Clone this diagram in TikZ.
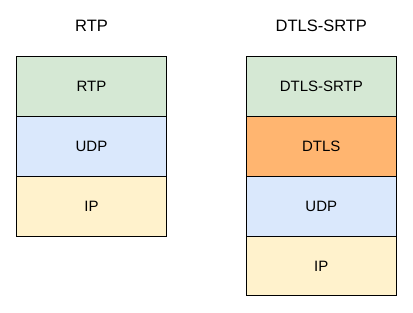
\documentclass[tikz,border=0pt]{standalone}
\usepackage{fontspec}
\setmainfont{Liberation Sans}
\usetikzlibrary{positioning}
\definecolor{layergreen}{HTML}{D5E8D4}
\definecolor{layerblue}{HTML}{DAE8FC}
\definecolor{layeryellow}{HTML}{FFF2CC}
\definecolor{layerorange}{HTML}{FFB570}
\begin{document}
\begin{tikzpicture}[x=1pt,y=-1pt,
  layer/.style={draw=black, line width=0.9pt, minimum width=149.6pt, minimum height=59.8pt,
    inner sep=0pt, outer sep=0pt, font=\fontsize{15}{18}\selectfont},
  title/.style={font=\fontsize{16.5}{19}\selectfont, inner sep=0pt}]
  \useasboundingbox (0,0) rectangle (413,313);
  \fill[white] (0,0) rectangle (413,313);

  % plain RTP stack
  \node[title] (tleft) at (91.5,25.5) {RTP};
  \node[layer, fill=layergreen, anchor=north] (lrtp) at (91.5,56.7) {RTP};
  \node[layer, fill=layerblue, below=0pt of lrtp] (ludp) {UDP};
  \node[layer, fill=layeryellow, below=0pt of ludp] (lip) {IP};

  % DTLS-SRTP stack
  \node[title] (tright) at (321.3,25.5) {DTLS-SRTP};
  \node[layer, fill=layergreen, anchor=north] (rsrtp) at (321.3,56.7) {DTLS-SRTP};
  \node[layer, fill=layerorange, below=0pt of rsrtp] (rdtls) {DTLS};
  \node[layer, fill=layerblue, below=0pt of rdtls] (rudp) {UDP};
  \node[layer, fill=layeryellow, below=0pt of rudp] (rip) {IP};
\end{tikzpicture}
\end{document}
